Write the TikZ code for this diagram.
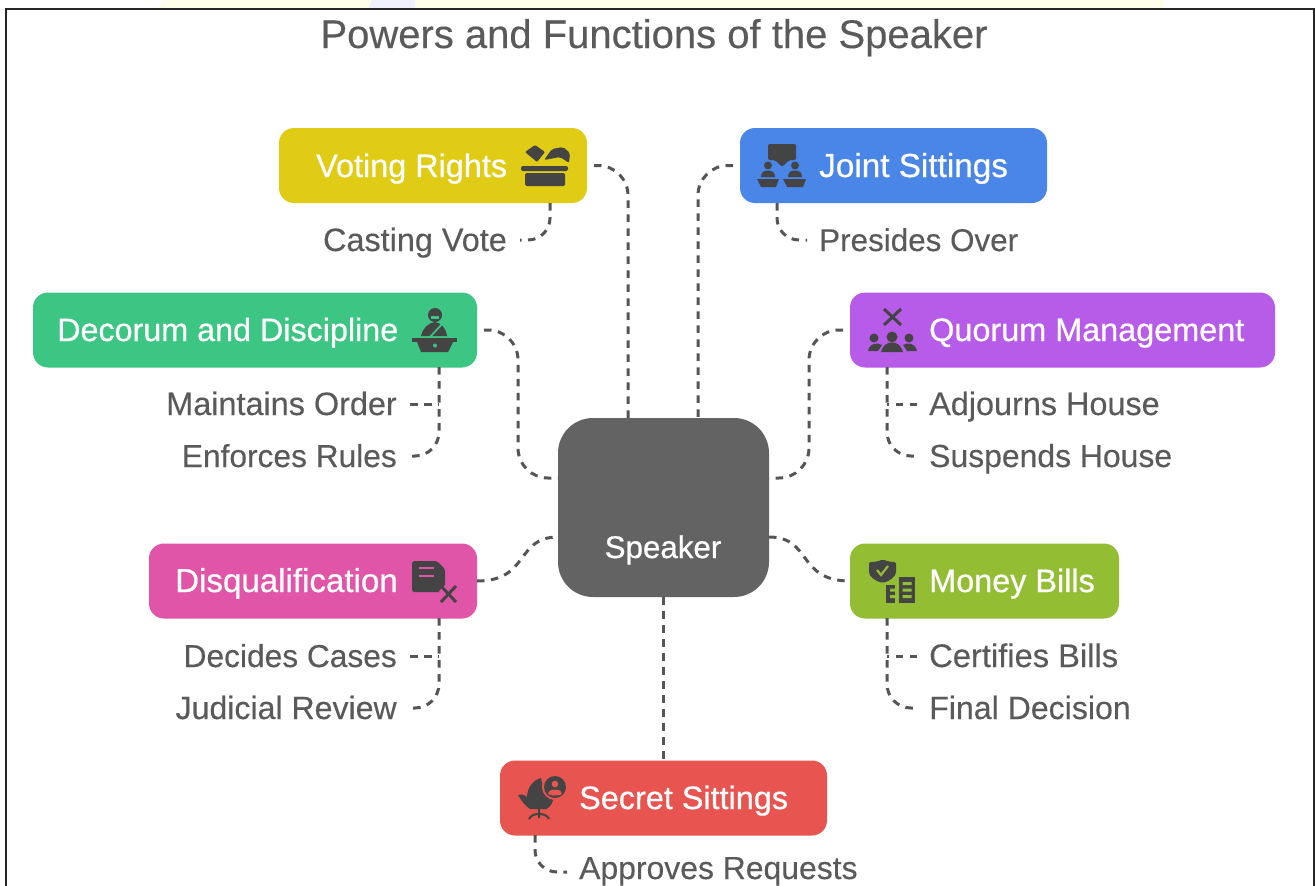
\documentclass[tikz,border=0pt]{standalone}
\usepackage{fontspec}
\setmainfont{Liberation Sans}
\newfontfamily\headfont[FakeBold=0.6]{Liberation Sans}
\newfontfamily\leaffont[FakeBold=0.25]{Liberation Sans}
\definecolor{icn}{HTML}{444444}
\definecolor{lnk}{HTML}{555555}
\definecolor{sub}{HTML}{5A5A5A}
\definecolor{cvote}{HTML}{E0CB15}
\definecolor{cjoint}{HTML}{4A86E8}
\definecolor{cdec}{HTML}{3CC583}
\definecolor{cquo}{HTML}{B75CE8}
\definecolor{cdis}{HTML}{E055A8}
\definecolor{cmon}{HTML}{93BE34}
\definecolor{csec}{HTML}{E85550}
\definecolor{cspk}{HTML}{636363}
\tikzset{
 x=1pt,y=-1pt,
 card/.style={rounded corners=15,minimum height=75,inner sep=0,outer sep=0},
 head/.style={text=white,font=\fontsize{32.4}{38}\selectfont\headfont,inner sep=0,anchor=base west},
 leaf/.style={text=sub,font=\fontsize{32.4}{38}\selectfont\leaffont,inner sep=0},
 hsize/.style={font=\fontsize{#1}{38}\selectfont\headfont},
 lsize/.style={font=\fontsize{#1}{38}\selectfont\leaffont},
 link/.style={draw=lnk,line width=3,dash pattern=on 7.5 off 6.5,rounded corners=30},
 ic/.style={fill=icn,draw=none},
}
\begin{document}
\begin{tikzpicture}
\useasboundingbox (0,0) rectangle (1315,886);
\fill[white] (0,0) rectangle (1315,886);
\fill[yellow!8] (163,0) -- (1163,0) -- (1166,9) -- (157,9) -- cycle;
\fill[blue!6] (372,0) -- (415,0) -- (415,9) -- (368,9) -- cycle;
\draw[line width=2,black!85] (5.5,886) -- (5.5,8.5) -- (1314,8.5) -- (1314,886);

\node[font=\fontsize{40}{46}\selectfont\leaffont,text=sub,inner sep=0,anchor=base] (title) at (654,48) {Powers and Functions of the Speaker};

\node[card,fill=cvote,minimum width=308] (voting) at (433,165.5) {};
\node[card,fill=cjoint,minimum width=307] (joint) at (893.5,165.5) {};
\node[card,fill=cdec,minimum width=444] (decorum) at (255,330) {};
\node[card,fill=cquo,minimum width=425] (quorum) at (1062.5,330) {};
\node[card,fill=cdis,minimum width=328] (disq) at (313,581) {};
\node[card,fill=cmon,minimum width=269] (money) at (984.5,581) {};
\node[card,fill=csec,minimum width=327] (secret) at (663.5,798) {};
\node[rounded corners=35,fill=cspk,minimum width=211,minimum height=179,inner sep=0,outer sep=0] (speaker) at (663.5,507.5) {};

\node[head] (tvoting) at (316,177) {Voting Rights};
\node[head,hsize=33.3] (tjoint) at (819,177) {Joint Sittings};
\node[head,hsize=32.3] (tdec) at (57,341) {Decorum and Discipline};
\node[head] (tquo) at (929,341) {Quorum Management};
\node[head,hsize=33.1] (tdis) at (175,592) {Disqualification};
\node[head] (tmon) at (929,592) {Money Bills};
\node[head] (tsec) at (579,809) {Secret Sittings};
\node[text=white,hsize=31.3,inner sep=0,anchor=base] (tspk) at (663,558) {Speaker};

\node[leaf,anchor=base east] (casting) at (507,251) {Casting Vote};
\node[leaf,lsize=31.4,anchor=base west] (presides) at (819,251) {Presides Over};
\node[leaf,anchor=base east] (maintains) at (397,415) {Maintains Order};
\node[leaf,lsize=31.7,anchor=base east] (enforces) at (397,467) {Enforces Rules};
\node[leaf,anchor=base west] (adjourns) at (929,415) {Adjourns House};
\node[leaf,lsize=31.9,anchor=base west] (suspends) at (929,467) {Suspends House};
\node[leaf,lsize=31.7,anchor=base east] (decides) at (397,667) {Decides Cases};
\node[leaf,lsize=32.1,anchor=base east] (judicial) at (397,719) {Judicial Review};
\node[leaf,lsize=32.7,anchor=base west] (certifies) at (929,667) {Certifies Bills};
\node[leaf,lsize=32.1,anchor=base west] (final) at (929,719) {Final Decision};
\node[leaf,lsize=31.9,anchor=base west] (approves) at (579,879) {Approves Requests};

% connectors to the hub
\draw[link] ([xshift=7]voting.east) -- (628,165.5) -- (628,418);
\draw[link] ([xshift=-7]joint.west) -- (698,165.5) -- (698,418);
\draw[link] ([xshift=7]decorum.east) -- (518,330) -- (518,478) -- (558,478);
\draw[link] ([xshift=-7]quorum.west) -- (809,330) -- (809,478) -- (769,478);
\draw[link,rounded corners=0] (disq.east) .. controls (530,581) and (515,537) .. (558,537);
\draw[link,rounded corners=0] (speaker.east |- 0,537) .. controls (812,537) and (797,581) .. (money.west);
\draw[link,rounded corners=0] (speaker.south) -- (speaker.south |- secret.north);

% connectors to the leaves
\draw[link,rounded corners=22] (550,203) -- (550,240) -- (520,240);
\draw[link,rounded corners=22] (777,203) -- (777,240) -- (807,240);
\draw[link,rounded corners=24] (439,367) -- (439,456) -- (408,456);
\draw[link,rounded corners=0] (410,404) -- (439,404);
\draw[link,rounded corners=24] (887,367) -- (887,456) -- (917,456);
\draw[link,rounded corners=0] (917,404) -- (887,404);
\draw[link,rounded corners=24] (439,618) -- (439,708) -- (408,708);
\draw[link,rounded corners=0] (410,656) -- (439,656);
\draw[link,rounded corners=24] (887,618) -- (887,708) -- (917,708);
\draw[link,rounded corners=0] (917,656) -- (887,656);
\draw[link,rounded corners=22] (535,835) -- (535,872) -- (567,872);

% icon: ballot box
\fill[ic,rounded corners=1.5] (525,173) rectangle (565,186);
\fill[ic,rounded corners=2] (521,166) rectangle (568,171);
\fill[ic,rounded corners=1] (535,145) -- (545,152) -- (537,162) -- (525,152) -- cycle;
\fill[ic,rounded corners=2] (544,160) -- (552,149) -- (563,147) -- (570,153) -- (569,163) -- (560,157) -- cycle;
% icon: joint sittings
\fill[ic,rounded corners=2] (768,144) -- (796,144) -- (796,160) -- (789,160) -- (782,167) -- (775,160) -- (768,160) -- cycle;
\fill[ic] (768,165.5) circle (4) (795,165.5) circle (4);
\fill[ic] (761,177) .. controls (761,172) and (764,170.5) .. (768,170.5) .. controls (772,170.5) and (775,172) .. (775,177) -- cycle;
\fill[ic] (788,177) .. controls (788,172) and (791,170.5) .. (795,170.5) .. controls (799,170.5) and (802,172) .. (802,177) -- cycle;
\fill[ic] (757,179) -- (779,179) -- (776,187) -- (761,187) -- cycle;
\fill[ic] (783,179) -- (806,179) -- (803,187) -- (787,187) -- cycle;
% icon: speaker at desk
\fill[ic] (435,315) circle (7);
\fill[cdec] (431,316) rectangle (439,319);
\fill[ic] (421,336) .. controls (423,328) and (428,323) .. (435,322) .. controls (441,323) and (446,328) .. (447,336) -- cycle;
\draw[cdec,line width=1.8] (430,337) -- (443,323);
\fill[ic] (412,338) rectangle (457,342);
\fill[ic] (417,342) -- (453,342) -- (448,352) -- (421,352) -- cycle;
\fill[cdec] (435,345.5) circle (2);
% icon: quorum
\draw[icn,line width=3] (884,309) -- (901,325) (901,309) -- (884,325);
\fill[ic] (892,337) circle (5.5) (874,338) circle (4.5) (909,338) circle (4.5);
\fill[ic] (881,352) .. controls (883,345) and (887,342.5) .. (892,342.5) .. controls (897,342.5) and (901,345) .. (903,352) -- cycle;
\fill[ic] (868,351) .. controls (869,346) and (872,343.5) .. (878,343.5) -- (882,345) -- (878,351) -- cycle;
\fill[ic] (917,351) .. controls (916,346) and (913,343.5) .. (907,343.5) -- (903,345) -- (907,351) -- cycle;
% icon: disqualification
\fill[ic,rounded corners=2.5] (412,561) -- (437,561) -- (445,569) -- (445,592) -- (412,592) -- cycle;
\draw[cdis,line width=2.4] (419,568) -- (434,568) (419,576) -- (434,576);
\draw[cdis,line width=9] (442,588) -- (454,600) (454,588) -- (442,600);
\draw[icn,line width=3] (441,586) -- (456,602) (456,586) -- (441,602);
% icon: money bills
\fill[ic,rounded corners=2] (869,562) .. controls (877,562) and (882,560) .. (882.5,560) .. controls (884,560) and (889,562) .. (896,562) -- (896,570) .. controls (896,577) and (889,581) .. (882.5,583) .. controls (876,581) and (869,577) .. (869,570) -- cycle;
\draw[cmon,line width=2.2] (877,570) -- (881,575) -- (888,566);
\fill[ic] (899,577) rectangle (915,603);
\fill[cmon] (902.5,582) rectangle (911.5,585) (902.5,588.5) rectangle (911.5,591.5) (902.5,595) rectangle (911.5,598);
\fill[ic] (886,585) rectangle (895,603);
\fill[cmon] (890,588.5) rectangle (895,591.5) (890,595) rectangle (895,598);
% icon: secret sittings
\fill[ic] (518,795) .. controls (523,794) and (525,795) .. (527,797) .. controls (527,788) and (533,780) .. (541,778) -- (544,792) .. controls (546,796) and (550,797) .. (553,800) .. controls (552,805) and (549,808) .. (546,809) -- (530,809) .. controls (525,806) and (521,800) .. (518,795) -- cycle;
\fill[csec] (555,787) circle (13);
\fill[ic] (555,787) circle (11);
\fill[csec] (555,784) circle (3.3);
\fill[csec] (548,794) .. controls (549,790) and (552,789.5) .. (555,789.5) .. controls (558,789.5) and (561,790) .. (562,794) .. controls (560,796) and (550,796) .. (548,794) -- cycle;
\draw[icn,line width=2] (539,809) -- (539,818) (529,819) .. controls (531,815) and (535,814) .. (539,814) .. controls (543,814) and (547,815) .. (549,819);
\end{tikzpicture}
\end{document}
